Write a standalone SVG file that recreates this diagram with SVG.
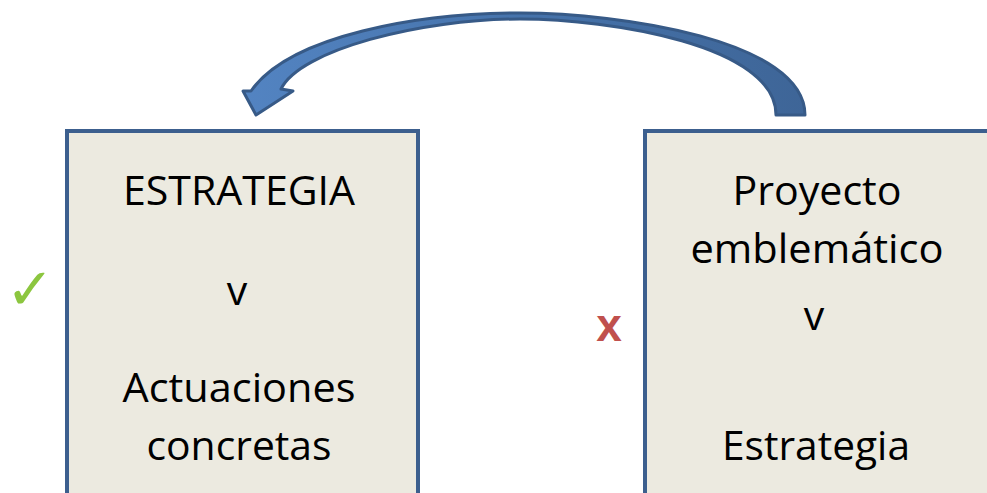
<svg xmlns="http://www.w3.org/2000/svg" width="987" height="493" viewBox="0 0 987 493">
<defs>
<style>
.box{fill:#ECEAE0;stroke:#3C5F8E;stroke-width:4}
.t{font-family:"Open Sans",Lato,sans-serif;font-size:41px;fill:#000;text-anchor:middle}
</style>
<linearGradient id="ag" x1="240" y1="0" x2="810" y2="0" gradientUnits="userSpaceOnUse">
<stop offset="0" stop-color="#5384C2"/>
<stop offset="0.5" stop-color="#4673AB"/>
<stop offset="1" stop-color="#3E6597"/>
</linearGradient>
</defs>
<rect width="987" height="493" fill="#fff"/>
<g id="connectors">
<path d="M805,115 C805,40 620,13 520,13 C420,13 290,35 251,91 L243,91 L256,115 L293,91 L281,89 C300,50 420,19 520,19 C610,19 776,45 776,115 Z" fill="url(#ag)" stroke="#375A87" stroke-width="3" stroke-linejoin="round"/>
</g>
<g id="node-left">
<rect class="box" x="67" y="131" width="351" height="380"/>
<text class="t" x="239" y="205" textLength="232" lengthAdjust="spacingAndGlyphs">ESTRATEGIA</text>
<text class="t" x="237" y="305">v</text>
<text class="t" x="239" y="402" textLength="233" lengthAdjust="spacingAndGlyphs">Actuaciones</text>
<text class="t" x="239" y="460" textLength="185" lengthAdjust="spacingAndGlyphs">concretas</text>
</g>
<g id="node-right">
<rect class="box" x="645" y="131" width="351" height="380"/>
<text class="t" x="817" y="205" textLength="169" lengthAdjust="spacingAndGlyphs">Proyecto</text>
<text class="t" x="817" y="263" textLength="253" lengthAdjust="spacingAndGlyphs">emblemático</text>
<text class="t" x="814" y="330">v</text>
<text class="t" x="816" y="460" textLength="188" lengthAdjust="spacingAndGlyphs">Estrategia</text>
</g>
<g id="mark-check">
<text x="30" y="309" font-family="DejaVu Sans,sans-serif" font-size="58" fill="#8CC63F" text-anchor="middle">✓</text>
</g>
<g id="mark-x">
<text x="609" y="341" font-family="Liberation Sans,Arial,sans-serif" font-weight="bold" font-size="46" fill="#C0504D" text-anchor="middle">x</text>
</g>
</svg>
